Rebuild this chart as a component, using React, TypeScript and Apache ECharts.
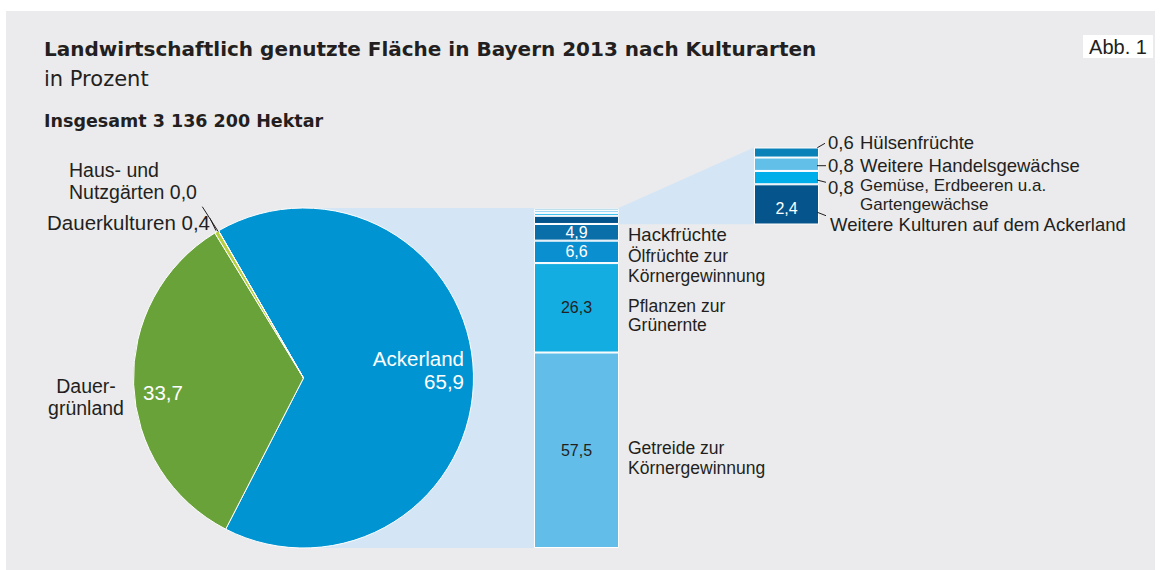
import React, { useEffect, useRef } from 'react';
import * as echarts from 'echarts';

// ---------- data ----------
const titleText = 'Landwirtschaftlich genutzte Fläche in Bayern 2013 nach Kulturarten';
const subtitleText = 'in Prozent';
const totalText = 'Insgesamt 3 136 200 Hektar';
const figText = 'Abb. 1';

const pieNames = ['Ackerland', 'Dauergrünland', 'Dauerkulturen', 'Haus- und Nutzgärten'];
const pieValues = [65.9, 33.7, 0.4, 0.0];
const pieNameLines = [['Ackerland'], ['Dauer-', 'grünland'], ['Dauerkulturen'], ['Haus- und', 'Nutzgärten']];
const pieColors = ['#0095d2', '#69a239', '#b5cf3d', '#d8e59a'];

const barNames = [
  'Getreide zur Körnergewinnung',
  'Pflanzen zur Grünernte',
  'Ölfrüchte zur Körnergewinnung',
  'Hackfrüchte',
  'Weitere Kulturen auf dem Ackerland',
  'Gemüse, Erdbeeren u.a. Gartengewächse',
  'Weitere Handelsgewächse',
  'Hülsenfrüchte',
];
const barNameLines = [
  ['Getreide zur', 'Körnergewinnung'],
  ['Pflanzen zur', 'Grünernte'],
  ['Ölfrüchte zur', 'Körnergewinnung'],
  ['Hackfrüchte'],
  ['Weitere Kulturen auf dem Ackerland'],
  ['Gemüse, Erdbeeren u.a.', 'Gartengewächse'],
  ['Weitere Handelsgewächse'],
  ['Hülsenfrüchte'],
];
const barValues = [57.5, 26.3, 6.6, 4.9, 2.4, 0.8, 0.8, 0.6];
const barColors = ['#62bee8', '#14ade2', '#0a90d0', '#0a6ea8', '#05558c', '#00aeea', '#62bfe8', '#0a82b8'];
const detailIdx = [4, 5, 6, 7];

// ---------- helpers ----------
const fmt = (v: number) => v.toFixed(1).replace('.', ',');
const DARK = '#231f20';
const SANS = '"Liberation Sans", Arial, Helvetica, sans-serif';
const WIDE = '"DejaVu Sans", "Liberation Sans", sans-serif';

function txt(x: number, y: number, text: string, o: any = {}) {
  const size = o.size ?? 18.5;
  const font = `${o.bold ? 'bold ' : ''}${size}px ${o.family ?? SANS}`;
  const align = o.align ?? 'left';
  return {
    type: 'text',
    x,
    y,
    z: 20,
    silent: true,
    style: {
      text,
      font,
      fill: o.color ?? DARK,
      align,
      textAlign: align,
      verticalAlign: 'middle',
      textVerticalAlign: 'middle',
      lineHeight: o.lineHeight ?? Math.ceil(size * 1.13),
    },
  };
}
function seg(x1: number, y1: number, x2: number, y2: number) {
  return {
    type: 'line',
    z: 20,
    silent: true,
    shape: { x1, y1, x2, y2 },
    style: { stroke: DARK, lineWidth: 1 },
  };
}

export default function App() {
  const ref = useRef<HTMLDivElement>(null);

  useEffect(() => {
    if (!ref.current) return;
    const chart = echarts.init(ref.current, undefined, { renderer: 'svg' });

    const detailMax = detailIdx.reduce((s, i) => s + barValues[i], 0);

    const mainSeries = barValues.map((v, i) => ({
      type: 'bar',
      name: barNames[i],
      xAxisIndex: 0,
      yAxisIndex: 0,
      stack: 'main',
      barWidth: '100%',
      silent: true,
      data: [v],
      itemStyle: { color: barColors[i], borderColor: '#ffffff', borderWidth: 1 },
      label: {
        show: i < 4,
        position: 'inside',
        formatter: () => fmt(v),
        color: i < 2 ? DARK : '#ffffff',
        fontSize: 16,
        fontFamily: SANS,
      },
    }));

    const detailSeries = detailIdx.map((i) => ({
      type: 'bar',
      name: barNames[i] + ' (Detail)',
      xAxisIndex: 1,
      yAxisIndex: 1,
      stack: 'detail',
      barWidth: '100%',
      silent: true,
      data: [barValues[i]],
      itemStyle: { color: barColors[i], borderColor: '#ffffff', borderWidth: 1 },
      label: {
        show: i === 4,
        position: 'inside',
        offset: [0, 4],
        formatter: () => fmt(barValues[i]),
        color: '#ffffff',
        fontSize: 16,
        fontFamily: SANS,
      },
    }));

    const graphics: any[] = [
      { type: 'rect', z: 0, silent: true, shape: { x: 6, y: 11, width: 1149, height: 559 }, style: { fill: '#ebebed' } },
      // connector pie -> bar
      { type: 'rect', z: 1, silent: true, shape: { x: 303, y: 208, width: 231, height: 340 }, style: { fill: '#d4e5f5' } },
      // connector bar -> detail
      {
        type: 'polygon',
        z: 1,
        silent: true,
        shape: { points: [[618, 208.3], [754, 147.5], [754, 224.3], [618, 224.3]] },
        style: { fill: '#d4e5f5' },
      },
      // Abb. 1 box
      { type: 'rect', z: 1, silent: true, shape: { x: 1083, y: 35, width: 70, height: 23 }, style: { fill: '#ffffff' } },
      txt(1118, 47, figText, { size: 20, align: 'center' }),
      // titles
      txt(44, 49, titleText, { bold: true, size: 20, family: WIDE }),
      txt(44, 79, subtitleText, { size: 21, family: WIDE }),
      txt(44, 121, totalText, { bold: true, size: 17.5, family: WIDE }),

      // pie labels
      txt(69, 181, pieNameLines[3][0] + '\n' + pieNameLines[3][1] + ' ' + fmt(pieValues[3]), { size: 19.5, lineHeight: 22.5 }),
      txt(210, 222, pieNameLines[2][0] + ' ' + fmt(pieValues[2]), { size: 20.5, align: 'right' }),
      txt(86, 396.5, pieNameLines[1].join('\n'), { size: 19.5, lineHeight: 22, align: 'center' }),
      txt(143, 392, fmt(pieValues[1]), { size: 20.5, color: '#ffffff' }),
      txt(464, 358, pieNameLines[0][0], { size: 20.5, align: 'right', color: '#ffffff' }),
      txt(464, 381, fmt(pieValues[0]), { size: 20.5, align: 'right', color: '#ffffff' }),
      seg(202.3, 206.7, 218.3, 231.7),
      seg(210, 218.3, 216, 230.7),

      // main bar names
      txt(628, 234.5, barNameLines[3][0]),
      txt(628, 266, barNameLines[2].join('\n'), { size: 17.5, lineHeight: 19.8 }),
      txt(628, 315.5, barNameLines[1].join('\n'), { size: 17.5, lineHeight: 19.8 }),
      txt(628, 458.3, barNameLines[0].join('\n'), { size: 17.5, lineHeight: 19.8 }),

      // detail labels
      txt(828, 142.5, fmt(barValues[7])),
      txt(860, 142.5, barNameLines[7][0]),
      txt(828, 165, fmt(barValues[6])),
      txt(860, 165, barNameLines[6][0]),
      txt(828, 187.5, fmt(barValues[5])),
      txt(860, 195, barNameLines[5].join('\n'), { size: 17, lineHeight: 19.3 }),
      txt(830, 224, barNameLines[4][0]),
      seg(817.3, 147.7, 825, 143.3),
      seg(817, 165.7, 826, 165.7),
      seg(817, 180, 826, 182.3),
      seg(817.3, 212.3, 826, 215.7),
    ];

    chart.setOption({
      animation: false,
      backgroundColor: '#ffffff',
      graphic: { elements: graphics },
      grid: [
        { left: 534, top: 208, width: 85, height: 340 },
        { left: 754, top: 147.5, width: 65, height: 77 },
      ],
      xAxis: [
        { type: 'category', gridIndex: 0, data: [''], show: false },
        { type: 'category', gridIndex: 1, data: [''], show: false },
      ],
      yAxis: [
        { type: 'value', gridIndex: 0, min: 0, max: 100, show: false },
        { type: 'value', gridIndex: 1, min: 0, max: detailMax, show: false },
      ],
      series: [
        {
          type: 'pie',
          center: [303.5, 378],
          radius: 170,
          startAngle: 120,
          clockwise: true,
          silent: true,
          label: { show: false },
          labelLine: { show: false },
          itemStyle: { borderColor: '#ffffff', borderWidth: 1 },
          data: pieValues.map((v, i) => ({ name: pieNames[i], value: v, itemStyle: { color: pieColors[i] } })),
        },
        ...mainSeries,
        ...detailSeries,
      ],
    });

    return () => chart.dispose();
  }, []);

  return (
    <div style={{ position: 'absolute', left: 0, top: 0, width: 1160, height: 570 }}>
      <div ref={ref} style={{ width: 1160, height: 570 }} />
    </div>
  );
}
